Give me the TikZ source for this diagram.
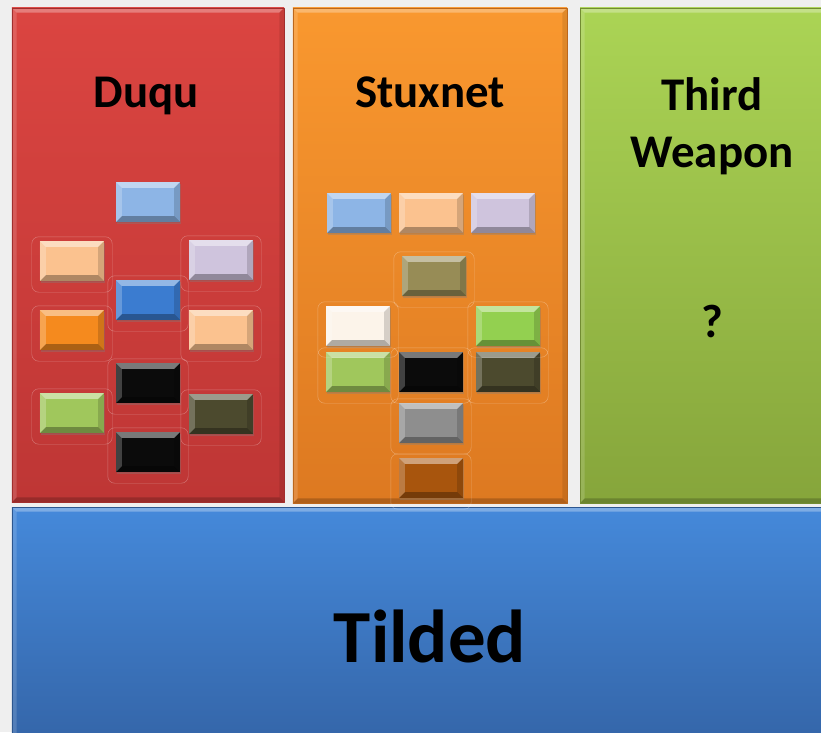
\documentclass[tikz,border=0pt]{standalone}
\usepackage{fontspec}
\setmainfont{Carlito}
\usetikzlibrary{shadows}
\definecolor{bggray}{HTML}{EFEFEF}
\definecolor{duqutop}{HTML}{DB4541}
\definecolor{duqubot}{HTML}{BE3635}
\definecolor{stuxtop}{HTML}{F9982F}
\definecolor{stuxbot}{HTML}{DD7921}
\definecolor{thirdtop}{HTML}{ABD455}
\definecolor{thirdbot}{HTML}{86A53B}
\definecolor{tildtop}{HTML}{4589DA}
\definecolor{tildbot}{HTML}{3465A8}
\definecolor{skyblue}{HTML}{8DB5E6}
\definecolor{peach}{HTML}{FBC28F}
\definecolor{lilac}{HTML}{CFC4DD}
\definecolor{steel}{HTML}{3B7CD0}
\definecolor{amber}{HTML}{F58A1E}
\definecolor{coal}{HTML}{0B0B0B}
\definecolor{moss}{HTML}{A0C75C}
\definecolor{olive}{HTML}{4C4A2E}
\definecolor{khaki}{HTML}{978C56}
\definecolor{cream}{HTML}{FCF4EA}
\definecolor{lime}{HTML}{93D050}
\definecolor{ash}{HTML}{8E8E8E}
\definecolor{rust}{HTML}{A8550D}
\newcommand\bevel[3]{%
\fill[white,opacity=#2] (path picture bounding box.north west) -- (path picture bounding box.north east) -- ([xshift=-#1,yshift=-#1]path picture bounding box.north east) -- ([xshift=#1,yshift=-#1]path picture bounding box.north west) -- cycle;
\fill[white,opacity=#2*0.5] (path picture bounding box.north west) -- ([xshift=#1,yshift=-#1]path picture bounding box.north west) -- ([xshift=#1,yshift=#1]path picture bounding box.south west) -- (path picture bounding box.south west) -- cycle;
\fill[black,opacity=#3] (path picture bounding box.south west) -- (path picture bounding box.south east) -- ([xshift=-#1,yshift=#1]path picture bounding box.south east) -- ([xshift=#1,yshift=#1]path picture bounding box.south west) -- cycle;
\fill[black,opacity=#3*0.5] (path picture bounding box.north east) -- ([xshift=-#1,yshift=-#1]path picture bounding box.north east) -- ([xshift=-#1,yshift=#1]path picture bounding box.south east) -- (path picture bounding box.south east) -- cycle;
}
\tikzset{
panel/.style 2 args={inner sep=0pt,top color=#1,bottom color=#2,draw=#2!85!black,line width=.4pt,
  drop shadow={opacity=.25,shadow xshift=1pt,shadow yshift=-1pt},
  path picture={\bevel{4pt}{.3}{.2}}},
chip/.style={minimum width=1.92cm,minimum height=1.2cm,inner sep=0pt,fill=#1,
  drop shadow={opacity=.35,shadow xshift=.6pt,shadow yshift=-1.6pt},
  path picture={\bevel{5pt}{.45}{.3}}},
halo/.style={draw=white,draw opacity=.3,line width=.4pt,rounded corners=6pt},
title/.style={font=\fontsize{40}{49}\selectfont\bfseries,text=black,inner sep=0pt}
}
\begin{document}
\begin{tikzpicture}[line cap=round,line join=round,x=0.03cm,y=-0.03cm]
\clip (0,0) rectangle (821,732);
\fill[bggray] (0,0) rectangle (821,732);
\node[panel={duqutop}{duqubot},minimum width=8.16cm,minimum height=14.82cm] (duqu) at (148,255) {};
\node[panel={stuxtop}{stuxbot},minimum width=8.22cm,minimum height=14.85cm] (stux) at (430,255.5) {};
\node[panel={thirdtop}{thirdbot},minimum width=7.8cm,minimum height=14.85cm] (third) at (710,255.5) {};
\node[panel={tildtop}{tildbot},minimum width=24.84cm,minimum height=7.14cm] (tilded) at (426,626) {};
\node[title,anchor=base] (duqulabel) at (146,108) {Duqu};
\node[title,anchor=base] (stuxlabel) at (430,108) {Stuxnet};
\node[title,align=center] (thirdlabel) at (712,126) {Third\\Weapon};
\node[title,anchor=base] (unknown) at (712,337) {?};
\node[title,font=\fontsize{64}{70}\selectfont\bfseries,anchor=base] (tildlabel) at (430,662) {Tilded};
\foreach \n/\x/\y/\c in {1/148/202/skyblue,2/72/261/peach,3/221/260/lilac,4/148/300/steel,5/72/330/amber,
  6/221/330/peach,7/148/383/coal,8/72/413/moss,9/221/414/olive,10/148/452/coal}
  \node[chip=\c] (d\n) at (\x,\y) {};
\foreach \n/\x/\y/\c in {1/359/213/skyblue,2/431/213/peach,3/503/213/lilac,4/434/276/khaki,5/358/326/cream,
  6/508/326/lime,7/358/372/moss,8/431/372/coal,9/508/372/olive,10/431/423/ash,11/431/478/rust}
  \node[chip=\c] (s\n) at (\x,\y) {};
\foreach \n in {2,...,10}
  \draw[halo] ([shift={(-8,-4)}]d\n.north west) rectangle ([shift={(8,11)}]d\n.south east);
\foreach \n in {4,...,11}
  \draw[halo] ([shift={(-8,-4)}]s\n.north west) rectangle ([shift={(8,11)}]s\n.south east);
\end{tikzpicture}
\end{document}
